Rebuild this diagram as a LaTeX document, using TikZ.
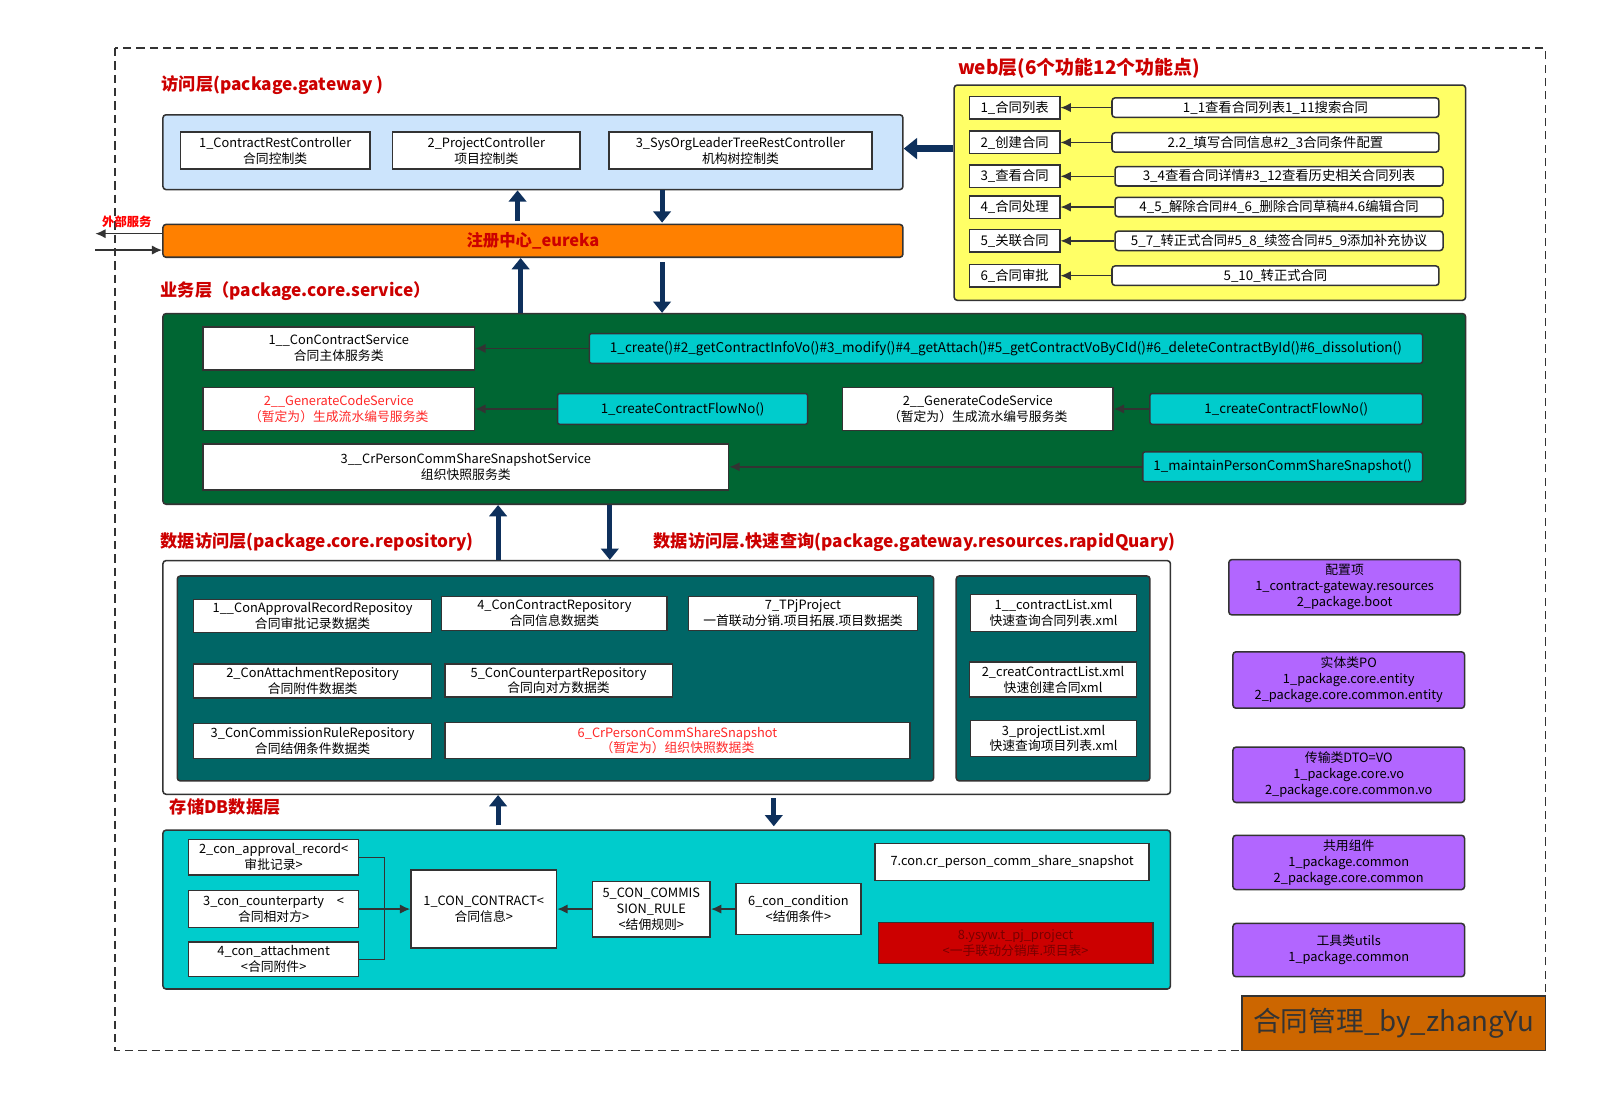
\documentclass[tikz,border=0pt]{standalone}
\usepackage{fontspec}
\setmainfont{Noto Sans CJK SC}
\usetikzlibrary{arrows.meta}
\definecolor{linec}{RGB}{51,51,51}
\definecolor{ttlred}{RGB}{204,0,0}
\definecolor{txtred}{RGB}{255,40,40}
\definecolor{accblue}{RGB}{204,228,252}
\definecolor{eurorange}{RGB}{255,128,0}
\definecolor{webyellow}{RGB}{255,255,102}
\definecolor{svcgreen}{RGB}{0,102,51}
\definecolor{methteal}{RGB}{0,204,204}
\definecolor{repoteal}{RGB}{0,102,102}
\definecolor{pkgpurple}{RGB}{178,102,255}
\definecolor{tabred}{RGB}{204,0,0}
\definecolor{tabtext}{RGB}{120,0,0}
\definecolor{signbrown}{RGB}{204,102,0}
\definecolor{navyarr}{RGB}{14,48,92}
\begin{document}
\begin{tikzpicture}[x=1pt,y=-1pt,line width=1.5pt,
  clsbox/.style={draw=linec,fill=white,align=center,inner sep=1pt,font=\fontsize{12.5}{15.5}\selectfont},
  methbox/.style={clsbox,fill=methteal,rounded corners=2pt},
  pkgbox/.style={clsbox,fill=pkgpurple,rounded corners=3pt},
  layerbox/.style={draw=linec,rounded corners=3pt},
  layertitle/.style={anchor=west,inner sep=0pt,text=ttlred,font=\fontsize{16.8}{20}\selectfont\bfseries},
  callarr/.style={draw=linec,line width=1.5pt,-{Latex[length=10pt,width=9pt]}},
  flowarr/.style={draw=navyarr,line width=5pt,-{Triangle[length=11pt,width=17pt]}}]
  \useasboundingbox (0,0) rectangle (1568,1086);
  \draw[linec,dash pattern=on 8pt off 5pt] (112,47) rectangle (1508,1025);

  % access layer
  \node[layertitle] (accttl) at (157,83) {访问层(package.gateway )};
  \node[layerbox,fill=accblue,minimum width=722pt,minimum height=73pt] (access) at (520,148.5) {};
  \node[clsbox,minimum width=185pt,minimum height=36pt] (c1) at (268.5,147) {1\_ContractRestController\\合同控制类};
  \node[clsbox,minimum width=183pt,minimum height=36pt] (c2) at (474.5,147) {2\_ProjectController\\项目控制类};
  \node[clsbox,minimum width=257pt,minimum height=36pt] (c3) at (722.5,147) {3\_SysOrgLeaderTreeRestController\\机构树控制类};

  % web layer
  \node[layertitle,font=\fontsize{18.5}{22}\selectfont\bfseries] (webttl) at (934,67) {web层(6个功能12个功能点)};
  \node[layerbox,fill=webyellow,minimum width=499pt,minimum height=210pt] (web) at (1180.5,188) {};
  \node[clsbox,font=\fontsize{13}{15}\selectfont,minimum width=88pt,minimum height=22pt] (w1) at (990,105) {1\_合同列表};
  \node[clsbox,font=\fontsize{13}{15}\selectfont,minimum width=88pt,minimum height=22pt] (w2) at (990,139) {2\_创建合同};
  \node[clsbox,font=\fontsize{13}{15}\selectfont,minimum width=88pt,minimum height=22pt] (w3) at (990,172) {3\_查看合同};
  \node[clsbox,font=\fontsize{13}{15}\selectfont,minimum width=88pt,minimum height=22pt] (w4) at (990,202) {4\_合同处理};
  \node[clsbox,font=\fontsize{13}{15}\selectfont,minimum width=88pt,minimum height=22pt] (w5) at (990,235) {5\_关联合同};
  \node[clsbox,font=\fontsize{13}{15}\selectfont,minimum width=88pt,minimum height=22pt] (w6) at (990,269) {6\_合同审批};
  \node[clsbox,rounded corners=3pt,font=\fontsize{13}{15}\selectfont,minimum width=319pt,minimum height=19pt] (f1) at (1244.5,105) {1\_1查看合同列表1\_11搜索合同};
  \node[clsbox,rounded corners=3pt,font=\fontsize{13}{15}\selectfont,minimum width=319pt,minimum height=19pt] (f2) at (1244.5,139) {2.2\_填写合同信息\#2\_3合同条件配置};
  \node[clsbox,rounded corners=3pt,font=\fontsize{13}{15}\selectfont,minimum width=320pt,minimum height=19pt] (f3) at (1248,172) {3\_4查看合同详情\#3\_12查看历史相关合同列表};
  \node[clsbox,rounded corners=3pt,font=\fontsize{13}{15}\selectfont,minimum width=320pt,minimum height=19pt] (f4) at (1248,202) {4\_5\_解除合同\#4\_6\_删除合同草稿\#4.6编辑合同};
  \node[clsbox,rounded corners=3pt,font=\fontsize{13}{15}\selectfont,minimum width=320pt,minimum height=19pt] (f5) at (1248,235) {5\_7\_转正式合同\#5\_8\_续签合同\#5\_9添加补充协议};
  \node[clsbox,rounded corners=3pt,font=\fontsize{13}{15}\selectfont,minimum width=319pt,minimum height=19pt] (f6) at (1244.5,269) {5\_10\_转正式合同};
  \foreach \i in {1,...,6} \draw[callarr] (f\i) -- (w\i);

  % eureka
  \node[layerbox,fill=eurorange,minimum width=722pt,minimum height=32pt,text=ttlred,font=\fontsize{16}{18}\selectfont\bfseries] (eureka) at (520,235) {注册中心\_eureka};
  \node[anchor=west,inner sep=0pt,text=red,font=\fontsize{12}{14}\selectfont\bfseries] (extttl) at (99,216) {外部服务};
  \coordinate (extout) at (93,228);
  \coordinate (extin) at (93,244);
  \draw[callarr] (eureka.west |- extout) -- (extout);
  \draw[callarr] (extin) -- (eureka.west |- extin);

  % service layer
  \node[layertitle] (svcttl) at (156,284) {业务层（package.core.service）};
  \node[layerbox,fill=svcgreen,minimum width=1271pt,minimum height=186pt] (svc) at (794.5,399) {};
  \node[clsbox,minimum width=265pt,minimum height=42pt] (s1) at (330.5,340) {1\_\_ConContractService\\合同主体服务类};
  \node[clsbox,text=txtred,minimum width=265pt,minimum height=42pt] (s2) at (330.5,399) {2\_\_GenerateCodeService\\（暂定为）生成流水编号服务类};
  \node[clsbox,minimum width=513pt,minimum height=45pt] (s3) at (454.5,455.5) {3\_\_CrPersonCommShareSnapshotService\\组织快照服务类};
  \node[methbox,font=\fontsize{13.2}{15}\selectfont,minimum width=813pt,minimum height=29pt] (m1) at (981.5,340) {1\_create()\#2\_getContractInfoVo()\#3\_modify()\#4\_getAttach()\#5\_getContractVoByCId()\#6\_deleteContractById()\#6\_dissolution()};
  \node[methbox,font=\fontsize{13}{15}\selectfont,minimum width=244pt,minimum height=30pt] (m2) at (666,399) {1\_createContractFlowNo()};
  \node[clsbox,minimum width=264pt,minimum height=42pt] (g2) at (954,399) {2\_\_GenerateCodeService\\（暂定为）生成流水编号服务类};
  \node[methbox,font=\fontsize{13}{15}\selectfont,minimum width=266pt,minimum height=30pt] (m3) at (1255,399) {1\_createContractFlowNo()};
  \node[methbox,font=\fontsize{13}{15}\selectfont,minimum width=273pt,minimum height=29pt] (m4) at (1251.5,455.5) {1\_maintainPersonCommShareSnapshot()};
  \draw[callarr] (m1) -- (s1);
  \draw[callarr] (m2) -- (s2);
  \draw[callarr] (m3) -- (g2);
  \draw[callarr] (m4) -- (s3);

  % repository layer
  \node[layertitle] (repottl) at (156,529) {数据访问层(package.core.repository)};
  \node[layertitle] (rapidttl) at (637,529) {数据访问层.快速查询(package.gateway.resources.rapidQuary)};
  \node[layerbox,fill=white,minimum width=983pt,minimum height=228pt] (repo) at (650.5,661) {};
  \node[layerbox,fill=repoteal,minimum width=738pt,minimum height=200pt] (repoA) at (542,662) {};
  \node[layerbox,fill=repoteal,minimum width=189pt,minimum height=200pt] (repoB) at (1027.5,662) {};
  \node[clsbox,minimum width=232pt,minimum height=32pt] (r1) at (305,601) {1\_\_ConApprovalRecordRepositoy\\合同审批记录数据类};
  \node[clsbox,minimum width=220pt,minimum height=33pt] (r4) at (541,598.5) {4\_ConContractRepository\\合同信息数据类};
  \node[clsbox,minimum width=223pt,minimum height=33pt] (r7) at (783.5,598.5) {7\_TPjProject\\一首联动分销.项目拓展.项目数据类};
  \node[clsbox,minimum width=232pt,minimum height=33pt] (r2) at (305,664.5) {2\_ConAttachmentRepository\\合同附件数据类};
  \node[clsbox,minimum width=222pt,minimum height=32pt] (r5) at (545,664) {5\_ConCounterpartRepository\\合同向对方数据类};
  \node[clsbox,minimum width=232pt,minimum height=34pt] (r3) at (305,723) {3\_ConCommissionRuleRepository\\合同结佣条件数据类};
  \node[clsbox,text=txtred,minimum width=454pt,minimum height=35pt] (r6) at (661,722.5) {6\_CrPersonCommShareSnapshot\\（暂定为）组织快照数据类};
  \node[clsbox,minimum width=162pt,minimum height=36pt] (q1) at (1028,598) {1\_\_contractList.xml\\快速查询合同列表.xml};
  \node[clsbox,minimum width=163pt,minimum height=34pt] (q2) at (1027.5,663) {2\_creatContractList.xml\\快速创建合同xml};
  \node[clsbox,minimum width=162pt,minimum height=35pt] (q3) at (1028,720.5) {3\_projectList.xml\\快速查询项目列表.xml};

  % packages
  \node[pkgbox,minimum width=226pt,minimum height=54pt] (p1) at (1312,573) {配置项\\1\_contract-gateway.resources\\2\_package.boot};
  \node[pkgbox,minimum width=226pt,minimum height=55pt] (p2) at (1316,663.5) {实体类PO\\1\_package.core.entity\\2\_package.core.common.entity};
  \node[pkgbox,minimum width=226pt,minimum height=54pt] (p3) at (1316,756) {传输类DTO=VO\\1\_package.core.vo\\2\_package.core.common.vo};
  \node[pkgbox,minimum width=226pt,minimum height=53pt] (p4) at (1316,841.5) {共用组件\\1\_package.common\\2\_package.core.common};
  \node[pkgbox,minimum width=226pt,minimum height=52pt] (p5) at (1316,927) {工具类utils\\1\_package.common};

  % db layer
  \node[layertitle] (dbttl) at (165,787) {存储DB数据层};
  \node[layerbox,fill=methteal,minimum width=983pt,minimum height=155pt] (db) at (650.5,887.5) {};
  \node[clsbox,minimum width=166pt,minimum height=35pt] (d2) at (267,836.5) {2\_con\_approval\_record<\\审批记录>};
  \node[clsbox,minimum width=166pt,minimum height=36pt] (d3) at (267,887) {3\_con\_counterparty\quad <\\合同相对方>};
  \node[clsbox,minimum width=166pt,minimum height=34pt] (d4) at (267,936) {4\_con\_attachment\\<合同附件>};
  \node[clsbox,minimum width=142pt,minimum height=76pt] (d1) at (472,887) {1\_CON\_CONTRACT<\\合同信息>};
  \node[clsbox,minimum width=115pt,minimum height=54pt] (d5) at (635.5,887) {5\_CON\_COMMIS\\SION\_RULE\\<结佣规则>};
  \node[clsbox,minimum width=122pt,minimum height=50pt] (d6) at (779,887) {6\_con\_condition\\<结佣条件>};
  \node[clsbox,minimum width=267pt,minimum height=36pt] (d7) at (987.5,841) {7.con.cr\_person\_comm\_share\_snapshot};
  \node[clsbox,fill=tabred,text=tabtext,minimum width=268pt,minimum height=40pt] (d8) at (991,920) {8.ysyw.t\_pj\_project\\<一手联动分销库.项目表>};
  \coordinate (bus) at (375,887);
  \draw[linec] (d2.east) -| (bus);
  \draw[linec] (d4.east) -| (bus);
  \draw[callarr] (d3) -- (d1);
  \draw[callarr] (d5) -- (d1);
  \draw[callarr] (d6) -- (d5);

  % layer arrows
  \draw[flowarr,line width=7pt,-{Triangle[length=13pt,width=20pt]}] (web.west |- 0,145) -- (access.east |- 0,145);
  \draw[flowarr,shorten <=3pt] (505,0 |- eureka.north) -- (505,0 |- access.south);
  \draw[flowarr,shorten >=1pt] (646,0 |- access.south) -- (646,0 |- eureka.north);
  \draw[flowarr] (508,0 |- svc.north) -- (508,0 |- eureka.south);
  \draw[flowarr,shorten <=4pt] (646,0 |- eureka.south) -- (646,0 |- svc.north);
  \draw[flowarr] (486,0 |- repo.north) -- (486,0 |- svc.south);
  \draw[flowarr] (595,0 |- svc.south) -- (595,0 |- repo.north);
  \draw[flowarr,shorten <=4pt] (486,0 |- db.north) -- (486,0 |- repo.south);
  \draw[flowarr,shorten <=3pt,shorten >=3pt] (755,0 |- repo.south) -- (755,0 |- db.north);

  \node[draw=linec,fill=signbrown,text=linec,minimum width=296pt,minimum height=53pt,font=\fontsize{27}{30}\selectfont] (sign) at (1360,998.5) {合同管理\_by\_zhangYu};
\end{tikzpicture}
\end{document}
